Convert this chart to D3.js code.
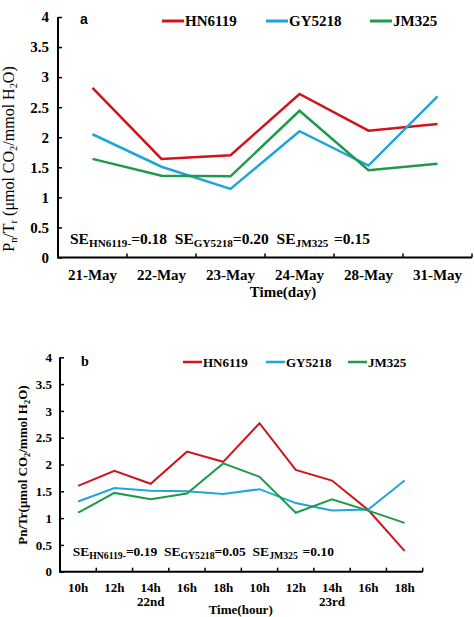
<!DOCTYPE html>
<html><head><meta charset="utf-8">
<script src="https://cdn.jsdelivr.net/npm/d3@7"></script>
<style>body{margin:0;background:#fff}svg{display:block}</style>
</head><body>
<svg id="c" width="474" height="617"></svg>
<script>
const seriesNames = ["HN6119", "GY5218", "JM325"];
const colors = ["#d0141c", "#1fa5dc", "#1e9a4b"];
const yTicks = [0, 0.5, 1, 1.5, 2, 2.5, 3, 3.5, 4];

const daysA = ["21-May", "22-May", "23-May", "24-May", "28-May", "31-May"];
const hnA = [2.82, 1.64, 1.70, 2.72, 2.11, 2.22];
const gyA = [2.05, 1.51, 1.14, 2.10, 1.53, 2.68];
const jmA = [1.64, 1.36, 1.35, 2.44, 1.45, 1.56];

const hoursB = ["10h", "12h", "14h", "16h", "18h", "10h", "12h", "14h", "16h", "18h"];
const hnB = [1.60, 1.88, 1.64, 2.24, 2.05, 2.77, 1.90, 1.70, 1.15, 0.39];
const gyB = [1.31, 1.56, 1.51, 1.50, 1.45, 1.54, 1.28, 1.14, 1.16, 1.70];
const jmB = [1.10, 1.47, 1.35, 1.46, 2.02, 1.77, 1.10, 1.35, 1.14, 0.91];

const svg = d3.select("#c");
const SERIF = "'Liberation Serif','Times New Roman',serif";

function richText(sel, parts, fs, ratio, shift) {
  // parts: [text, isSub]
  let down = false;
  parts.forEach(p => {
    const t = sel.append("tspan").text(p[0]);
    if (p[1]) {
      t.attr("font-size", fs * ratio);
      if (!down) { t.attr("dy", shift); down = true; }
    } else if (down) {
      t.attr("dy", -shift); down = false;
    }
  });
}

function panel(o) {
  const g = svg.append("g");
  const cats = o.cats.map((c, i) => i);
  const x = d3.scaleBand().domain(cats).range([o.x0, o.x1]);
  const y = d3.scaleLinear().domain([0, 4]).range([o.yb, o.yt]);

  // y axis
  const ya = g.append("g").attr("transform", `translate(${o.x0},0)`)
    .call(d3.axisLeft(y).tickValues(yTicks).tickSize(-4).tickPadding(o.ytp).tickFormat(d => String(d)));
  ya.select(".domain").attr("d", `M0,${o.yt}V${o.yb}`).attr("stroke", "#000").attr("stroke-width", 2);
  ya.selectAll(".tick line").attr("stroke", "#000").attr("stroke-width", 1.5);
  ya.selectAll(".tick text").attr("font-family", SERIF).attr("font-weight", "bold")
    .attr("font-size", o.fs).attr("fill", "#000");

  // x axis
  const xa = g.append("g").attr("transform", `translate(0,${o.yb})`)
    .call(d3.axisBottom(x).tickSize(0).tickPadding(o.xtp).tickFormat(i => o.cats[i]));
  xa.select(".domain").attr("d", `M${o.x0 - 1},0H${o.x1}`).attr("stroke", "#000").attr("stroke-width", 2);
  xa.selectAll(".tick text").attr("font-family", SERIF).attr("font-weight", "bold")
    .attr("font-size", o.fs).attr("fill", "#000");
  // boundary ticks (inward)
  g.append("g").selectAll("line").data(cats.slice(1).concat([cats.length])).join("line")
    .attr("x1", i => o.x0 + i * x.step()).attr("x2", i => o.x0 + i * x.step())
    .attr("y1", o.yb).attr("y2", o.yb - 4).attr("stroke", "#000").attr("stroke-width", 1.5);

  // lines
  const line = d3.line().x((d, i) => x(i) + x.bandwidth() / 2).y(d => y(d));
  o.series.forEach((s, k) => {
    g.append("path").datum(s).attr("d", line).attr("fill", "none")
      .attr("stroke", colors[k]).attr("stroke-width", o.lw).attr("stroke-linejoin", "miter");
  });

  // legend
  seriesNames.forEach((n, k) => {
    const lx = o.legX[k];
    g.append("line").attr("x1", lx).attr("x2", lx + o.legLen).attr("y1", o.legY).attr("y2", o.legY)
      .attr("stroke", colors[k]).attr("stroke-width", o.lw + 0.5);
    g.append("text").attr("x", lx + o.legLen + 1).attr("y", o.legY).attr("dy", "0.35em")
      .attr("font-family", SERIF).attr("font-weight", "bold").attr("font-size", o.lfs).text(n);
  });

  // panel letter
  g.append("text").attr("x", o.letX).attr("y", o.letY).attr("font-family", o.letFont)
    .attr("font-weight", "bold").attr("font-size", o.letFs).text(o.letter);

  // SE text
  const se = g.append("text").attr("x", o.seX).attr("y", o.seY).attr("font-family", SERIF)
    .attr("font-weight", "bold").attr("font-size", o.seFs).attr("xml:space", "preserve");
  const seParts = [];
  o.se.forEach((p, k) => {
    seParts.push([k === 0 ? "SE" : "  SE", false], [p[0], true], [p[1], false]);
  });
  richText(se, seParts, o.seFs, 0.72, 3);

  // y label
  const yl = g.append("text").attr("transform", `translate(${o.ylX},${o.ylY}) rotate(-90)`)
    .attr("text-anchor", "middle").attr("font-family", SERIF).attr("font-weight", o.ylW)
    .attr("font-size", o.ylFs).attr("xml:space", "preserve");
  richText(yl, o.ylParts, o.ylFs, 0.65, 3);

  // x title
  o.xTitles.forEach(t => {
    g.append("text").attr("x", t[0]).attr("y", t[1]).attr("text-anchor", "middle")
      .attr("font-family", SERIF).attr("font-weight", "bold").attr("font-size", o.fs).text(t[2]);
  });
  return x;
}

panel({
  cats: daysA, series: [hnA, gyA, jmA],
  x0: 58, x1: 472, yt: 17, yb: 257.5, fs: 15, lfs: 15, lw: 2.5, ytp: 9, xtp: 12,
  legX: [162, 266, 370], legLen: 22, legY: 21,
  letter: "a", letX: 80, letY: 24, letFs: 14, letFont: "'Liberation Sans',Arial,sans-serif",
  se: [["HN6119-", "=0.18"], ["GY5218", "=0.20"], ["JM325  ", "=0.15"]], seX: 70, seY: 244, seFs: 15.5,
  ylX: 14, ylY: 159, ylFs: 16, ylW: "normal",
  ylParts: [["P", false], ["n", true], ["/T", false], ["r", true], [" (μmol CO", false], ["2", true], ["/mmol H", false], ["2", true], ["O)", false]],
  xTitles: [[283, 297, "Time(day)"]]
});

panel({
  cats: hoursB, series: [hnB, gyB, jmB],
  x0: 60, x1: 422.7, yt: 357.3, yb: 571.7, fs: 13, lfs: 13, lw: 2, ytp: 8, xtp: 11,
  legX: [183, 266, 348], legLen: 19, legY: 362,
  letter: "b", letX: 81, letY: 366, letFs: 14, letFont: SERIF,
  se: [["HN6119-", "=0.19"], ["GY5218", "=0.05"], ["JM325  ", "=0.10"]], seX: 72.7, seY: 556, seFs: 13.5,
  ylX: 27, ylY: 465, ylFs: 13, ylW: "bold",
  ylParts: [["Pn/Tr(μmol CO", false], ["2", true], ["/mmol H", false], ["2", true], ["O)", false]],
  xTitles: [[150.7, 606, "22nd"], [332, 606, "23rd"], [240.7, 614, "Time(hour)"]]
});
</script>
</body></html>
